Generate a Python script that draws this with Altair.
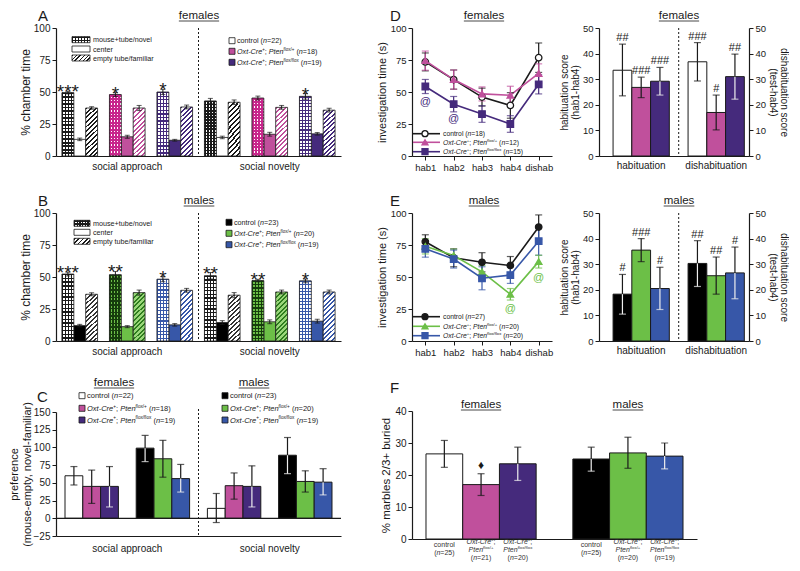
import math
import altair as alt
import pandas as pd

FONT = "Liberation Sans"
INK = "#1a1a1a"
LIGHT = "#eeeeee"
CLEAR = "rgba(255,255,255,0)"
WHITE = "#ffffff"
BLACK = "#000000"
PINK = "#c0509c"
PURP = "#452a7c"
GREEN = "#6cbf47"
BLUE = "#3757a8"
GENOS = ["ctl", "het", "hom"]

# ---------------- data ----------------
groups_ab = ["g1", "g2", "g3", "g4", "g5", "g6"]
geno_ab = ["ctl", "het", "hom", "ctl", "het", "hom"]
chambers = ["grid", "center", "hatch"]

A_vals = [[49.5, 13.0, 37.5], [48.0, 15.0, 37.5], [50.0, 12.3, 38.3],
          [43.0, 14.5, 42.0], [45.3, 17.0, 38.0], [46.6, 17.3, 35.8]]
A_errs = [[1.0, 1.0, 1.0], [1.5, 1.2, 2.0], [2.0, 0.7, 1.5],
          [2.0, 1.0, 1.8], [1.5, 1.5, 1.5], [2.2, 1.0, 1.5]]
A_stars = ["***", "*", "*", "", "", "*"]
A_n = [22, 18, 19]

B_vals = [[52.3, 12.0, 36.5], [51.8, 11.2, 37.8], [48.3, 12.6, 39.6],
          [51.0, 14.4, 35.8], [47.2, 15.0, 38.3], [47.0, 15.5, 38.3]]
B_errs = [[1.5, 1.0, 1.2], [2.5, 0.8, 2.0], [2.0, 1.0, 1.5],
          [2.5, 1.5, 2.0], [1.0, 1.5, 1.5], [1.5, 1.5, 1.5]]
B_stars = ["***", "**", "*", "**", "**", "*"]
B_n = [23, 20, 19]

C_halves = ["sa", "sn"]
C_half_labels = ["social approach", "social novelty"]
C_sa_vals = [60, 45, 45, 99, 84, 56]
C_sa_lo = [47, 21, 16, 80, 58, 37]
C_sa_hi = [73, 68, 73, 117, 110, 76]
C_sn_vals = [14, 46, 45, 89, 52, 51]
C_sn_lo = [-6, 27, 16, 63, 37, 33]
C_sn_hi = [35, 64, 74, 114, 67, 70]
C_n_f = [22, 18, 19]
C_n_m = [23, 20, 19]

hab_x = ["hab1", "hab2", "hab3", "hab4", "dishab"]
D_ctl = [73.5, 59.7, 46.0, 39.5, 76.8]
D_ctl_err = [7.0, 7.5, 7.0, 10.0, 11.5]
D_het = [74.5, 59.7, 48.5, 47.5, 64.5]
D_het_err = [7.5, 7.5, 5.5, 7.0, 7.5]
D_hom = [54.3, 40.5, 32.8, 25.0, 56.0]
D_hom_err = [5.5, 6.0, 6.5, 6.5, 7.5]
D_at_x = ["hab1", "hab2"]
D_at_y = [42, 29]
D_n = [18, 12, 15]

E_ctl = [77.5, 65.0, 61.5, 59.0, 89.0]
E_ctl_err = [5.5, 7.0, 7.5, 7.0, 9.5]
E_het = [74.0, 66.8, 54.0, 36.5, 62.0]
E_het_err = [6.0, 5.0, 5.0, 4.5, 5.0]
E_hom = [72.0, 64.0, 49.0, 51.5, 78.0]
E_hom_err = [6.5, 7.0, 9.0, 6.5, 11.0]
E_at_x = ["hab4", "dishab"]
E_at_y = [25, 49.5]
E_n = [27, 20, 20]

phases = ["hab", "dis"]
phase_labels = ["habituation", "dishabituation"]
DR_vals = [33.5, 26.8, 29.2, 36.8, 17.0, 31.0]
DR_lo = [23.5, 22.8, 23.8, 29.3, 10.2, 22.2]
DR_hi = [43.7, 30.8, 34.6, 44.3, 23.8, 39.8]
DR_ann = ["##", "###", "###", "###", "#", "##"]
ER_vals = [18.3, 35.5, 20.5, 30.3, 25.5, 26.6]
ER_lo = [10.5, 31.0, 12.3, 21.3, 18.3, 16.5]
ER_hi = [26.0, 40.0, 28.8, 39.2, 32.8, 36.7]
ER_ann = ["#", "###", "#", "##", "##", "#"]

F_halves = ["f", "m"]
F_vals = [26.6, 17.0, 23.5, 25.0, 26.9, 25.9]
F_lo = [22.4, 13.6, 18.3, 21.2, 22.1, 21.9]
F_hi = [30.8, 20.4, 28.7, 28.7, 31.8, 30.0]
F_n = [25, 21, 20, 25, 20, 19]
F_mark = ["", "\u2666", "", "", "", ""]

# ---------------- helpers ----------------
AW = {" ": 278, "#": 556, "%": 889, "(": 333, ")": 333, "*": 389, "+": 584, ",": 278,
      "-": 333, ".": 278, "/": 278, ";": 278, "=": 584, "@": 1015,
      "A": 667, "B": 667, "C": 722, "D": 722, "E": 667, "F": 611, "O": 778, "P": 667}
AW.update({d: 556 for d in "0123456789"})
AW.update(dict(zip("abcdefghijklmnopqrstuvwxyz",
                   [556, 556, 500, 556, 556, 278, 556, 556, 222, 222, 500, 222, 833,
                    556, 556, 556, 556, 333, 500, 278, 556, 500, 722, 500, 500, 500])))


def tw(s, size):
    return sum(AW.get(ch, 556) for ch in s) * size / 1000.0


ONE = pd.DataFrame({"a": [0]})


def vrect(x0, x1, y0, y1, **kw):
    return alt.Chart(ONE).mark_rect(**kw).encode(
        x=alt.value(x0), x2=alt.value(x1), y=alt.value(y0), y2=alt.value(y1))


def grad(c1, c2, n, frac, x1, y1, x2, y2):
    stops = []
    for i in range(n):
        a, b, c = i / n, (i + frac) / n, (i + 1) / n
        stops += [dict(offset=round(a, 4), color=c1), dict(offset=round(b, 4), color=c1),
                  dict(offset=round(b, 4), color=c2), dict(offset=round(c, 4), color=c2)]
    return dict(gradient="linear", x1=x1, y1=y1, x2=x2, y2=y2, stops=stops)


def hatch(line, bg, w, h, period=3.4, frac=0.42):
    c = (w + h) / (w * w + h * h)
    n = max(2, round((w + h) / math.sqrt(2) / period))
    return grad(line, bg, n, frac, 0, 0, round(c * w, 4), round(c * h, 4))


def segs_rows(segs, x, base, size, color=INK, anchor="left"):
    items = [(t, st, size * 0.62 if st == "s" else size) for t, st in segs]
    total = sum(tw(t, sz) for t, st, sz in items)
    cx = x - total / 2 if anchor == "center" else x
    out = []
    for t, st, sz in items:
        s = t.strip(" ")
        lead = len(t) - len(t.lstrip(" "))
        if s:
            out.append(dict(x=round(cx + lead * AW[" "] * sz / 1000, 2),
                            y=round(base - (0.42 * size if st == "s" else 0), 2),
                            t=s, sz=round(sz, 2), it=(st == "i"), c=color))
        cx += tw(t, sz)
    return out


def n_segs(n):
    return [("(", "n"), ("n", "i"), (f"={n})", "n")]


def geno_segs(kind, n):
    if kind == "ctl":
        return [("control ", "n")] + n_segs(n)
    sup = "flox/+" if kind == "het" else "flox/flox"
    return [("Oxt-Cre", "i"), ("+", "s"), ("; ", "n"), ("Pten", "i"), (sup, "s"), (" ", "n")] + n_segs(n)


def title_bits(text, cx, base, size=11.5):
    w = tw(text, size)
    rows = [dict(x=round(cx - w / 2, 2), y=base, t=text, sz=size, it=False, c=INK)]
    ul = [dict(x=round(cx - w / 2, 2), x2=round(cx + w / 2, 2), y=base + 2)]
    return rows, ul


def letter_row(letter, x, y):
    return dict(x=x, y=y, t=letter, sz=15, it=False, c=INK)


def text_layers(rows):
    df = pd.DataFrame(rows)
    out = []
    for it in (False, True):
        sub = df[df["it"] == it].drop(columns="it")
        if len(sub):
            out.append(alt.Chart(sub).mark_text(
                align="left", baseline="alphabetic", font=FONT,
                fontStyle="italic" if it else "normal").encode(
                x=alt.X("x:Q", scale=None), y=alt.Y("y:Q", scale=None), text="t:N",
                size=alt.Size("sz:Q", scale=None, legend=None),
                color=alt.Color("c:N", scale=None, legend=None)))
    return out


def uline_layer(rows):
    return alt.Chart(pd.DataFrame(rows)).mark_rule(color=INK, strokeWidth=0.8).encode(
        x=alt.X("x:Q", scale=None), x2="x2:Q", y=alt.Y("y:Q", scale=None))


def rect_layer(rows):
    return alt.Chart(pd.DataFrame(rows)).mark_rect(stroke=INK, strokeWidth=0.8).encode(
        x=alt.X("x:Q", scale=None), x2="x2:Q", y=alt.Y("y:Q", scale=None), y2="y2:Q",
        fill=alt.Fill("f:N", scale=None))


def label_expr(mapping):
    expr = "''"
    for k, v in reversed(list(mapping.items())):
        expr = f"datum.value == '{k}' ? '{v}' : ({expr})"
    return expr


PAT = {
    "f": {"ctl": dict(center=WHITE, gl="#1a1a1a", gb=WHITE, gf=0.45, hl="#1a1a1a", hb=WHITE),
          "het": dict(center=PINK, gl="#c8268c", gb=WHITE, gf=0.6, hl=PINK, hb=WHITE),
          "hom": dict(center=PURP, gl=PURP, gb=WHITE, gf=0.35, hl=PURP, hb=WHITE)},
    "m": {"ctl": dict(center=BLACK, gl="#1a1a1a", gb=WHITE, gf=0.35, hl="#333333", hb=WHITE),
          "het": dict(center=GREEN, gl="#163d0c", gb=GREEN, gf=0.4, hl="#2e7d1e", hb="#9ad77a"),
          "hom": dict(center=BLUE, gl=BLUE, gb=WHITE, gf=0.35, hl=BLUE, hb=WHITE)},
}

# ---------------- panels A / B ----------------
AB_SLOTS = []
for _gi, _g in enumerate(groups_ab):
    AB_SLOTS += [f"{_g}_{c}" for c in chambers]
    if _gi < len(groups_ab) - 1:
        AB_SLOTS.append(f"gap{_gi}")

AX_ABX = alt.Axis(title=None, ticks=False, labelAngle=0, labelPadding=5, labelFontSize=10,
                  labelExpr=label_expr({"g2_center": "social approach", "g5_center": "social novelty"}))
AX_ABY = alt.Axis(title="% chamber time", values=[0, 25, 50, 75, 100], titleFontSize=12, titlePadding=1)


def panel_ab(vals, errs, stars, sex, ns, letter, ttl, lleg, rleg):
    pat = PAT[sex]
    rows = []
    for gi, g in enumerate(groups_ab):
        geno = geno_ab[gi]
        for ci, ch in enumerate(chambers):
            v, e = vals[gi][ci], errs[gi][ci]
            rows.append(dict(slot=f"{g}_{ch}", ch=ch, geno=geno, val=v, lo=v - e, hi=v + e,
                             cf=pat[geno]["center"], star=stars[gi] if ch == "grid" else ""))
    df = pd.DataFrame(rows)
    XS = alt.Scale(domain=AB_SLOTS, paddingInner=0, paddingOuter=0.5)
    X = alt.X("slot:N", scale=XS, axis=AX_ABX)
    YS = alt.Scale(domain=[0, 100])

    def Y(f):
        return alt.Y(f"{f}:Q", scale=YS, axis=AX_ABY, stack=None)

    base = alt.Chart(df)
    layers = [base.transform_filter("datum.ch == 'center'").mark_bar(stroke=INK, strokeWidth=0.8).encode(
        x=X, y=Y("val"), fill=alt.Fill("cf:N", scale=None))]
    for g in GENOS:
        p = pat[g]
        sg = base.transform_filter(f"datum.geno == '{g}' && datum.ch == 'grid'")
        layers.append(sg.mark_bar(fill=grad(p["gl"], p["gb"], 18, p["gf"], 0, 0, 0, 1), strokeWidth=0).encode(
            x=X, y=Y("val")))
        layers.append(sg.mark_bar(fill=grad(p["gl"], CLEAR, 4, p["gf"], 0, 0, 1, 0), stroke=INK, strokeWidth=0.8).encode(
            x=X, y=Y("val")))
        sh = base.transform_filter(f"datum.geno == '{g}' && datum.ch == 'hatch'")
        layers.append(sh.mark_bar(fill=hatch(p["hl"], p["hb"], 12, 50), stroke=INK, strokeWidth=0.8).encode(
            x=X, y=Y("val")))
    layers.append(base.mark_rule(color=INK, strokeWidth=1).encode(x=X, y=Y("lo"), y2="hi:Q"))
    for f in ("lo", "hi"):
        layers.append(base.mark_tick(orient="horizontal", size=5, thickness=1, color=INK).encode(x=X, y=Y(f)))
    layers.append(base.transform_filter("datum.star != ''").mark_text(
        fontSize=19, baseline="alphabetic", dy=7, color=INK, font=FONT).encode(
        x=X, y=Y("hi"), text="star:N"))
    layers.append(alt.Chart(pd.DataFrame({"slot": ["gap2"]})).mark_rule(
        color=INK, strokeDash=[2, 2], strokeWidth=1).encode(
        x=alt.X("slot:N", scale=XS, axis=AX_ABX), y=alt.value(0), y2=alt.value(128)))

    deco, ul = [], []
    r, u = title_bits(ttl, 143, -9)
    deco += r
    ul += u
    deco.append(letter_row(letter, -18, -7))
    lx0, lx1, ly = lleg
    for k, lab in enumerate(["mouse+tube/novel", "center", "empty tube/familiar"]):
        deco += segs_rows([(lab, "n")], lx1 + 3, ly[k] + 2.5, 7.2)
    layers += [vrect(lx0, lx1, ly[0] - 3, ly[0] + 3, fill=grad(INK, WHITE, 2, 0.5, 0, 0, 0, 1)),
               vrect(lx0, lx1, ly[0] - 3, ly[0] + 3, fill=grad(INK, CLEAR, 6, 0.45, 0, 0, 1, 0),
                     stroke=INK, strokeWidth=0.8),
               vrect(lx0, lx1, ly[1] - 3, ly[1] + 3, fill=WHITE, stroke=INK, strokeWidth=0.8),
               vrect(lx0, lx1, ly[2] - 3, ly[2] + 3, fill=hatch(INK, WHITE, lx1 - lx0, 6, 3.0),
                     stroke=INK, strokeWidth=0.8)]
    rx0, ry = rleg
    sq = []
    for k, g in enumerate(GENOS):
        sq.append(dict(x=rx0, x2=rx0 + 6, y=ry[k] - 3, y2=ry[k] + 3, f=pat[g]["center"]))
        deco += segs_rows(geno_segs(g, ns[k]), rx0 + 8, ry[k] + 2.5, 7.2)
    layers.append(rect_layer(sq))
    layers += text_layers(deco)
    layers.append(uline_layer(ul))
    return alt.layer(*layers).properties(width=285, height=128)


# ---------------- panel C ----------------
C_SLOT_KEYS = ["f0", "f1", "f2", "gap", "m0", "m1", "m2"]
C_SLOTS = [f"{C_halves[0]}_{k}" for k in C_SLOT_KEYS] + ["mid"] + [f"{C_halves[1]}_{k}" for k in C_SLOT_KEYS]
AX_CX = alt.Axis(title=None, ticks=False, labelAngle=0, labelPadding=7, labelFontSize=10, offset=-3,
                 labelExpr=label_expr({f"{C_halves[0]}_gap": C_half_labels[0],
                                       f"{C_halves[1]}_gap": C_half_labels[1]}))
AX_CY = alt.Axis(title=["preference", "(mouse-empty, novel-familiar)"], values=list(range(-25, 151, 25)),
                 titleFontSize=11, titleLineHeight=13, titlePadding=1)


def panel_c():
    cols = [WHITE, PINK, PURP, BLACK, GREEN, BLUE]
    ecs = [INK, INK, LIGHT, LIGHT, INK, LIGHT]
    keys = ["f0", "f1", "f2", "m0", "m1", "m2"]
    rows = []
    for half, vals, los, his in ((C_halves[0], C_sa_vals, C_sa_lo, C_sa_hi),
                                 (C_halves[1], C_sn_vals, C_sn_lo, C_sn_hi)):
        for k in range(6):
            rows.append(dict(slot=f"{half}_{keys[k]}", val=vals[k], lo=los[k], hi=his[k], col=cols[k], ec=ecs[k]))
    df = pd.DataFrame(rows)
    XS = alt.Scale(domain=C_SLOTS, paddingInner=0, paddingOuter=0.506)
    X = alt.X("slot:N", scale=XS, axis=AX_CX)
    YS = alt.Scale(domain=[-25, 150], range=[138, 14])

    def Y(f):
        return alt.Y(f"{f}:Q", scale=YS, axis=AX_CY, stack=None)

    base = alt.Chart(df)
    layers = [
        base.mark_bar(stroke=INK, strokeWidth=1).encode(x=X, y=Y("val"), fill=alt.Fill("col:N", scale=None)),
        alt.Chart(pd.DataFrame({"z": [0]})).mark_rule(color=INK, strokeWidth=1.2).encode(
            y=Y("z"), x=alt.value(0), x2=alt.value(285)),
        base.mark_rule(color=INK, strokeWidth=1.2).encode(x=X, y=Y("val"), y2="hi:Q"),
        base.mark_tick(orient="horizontal", size=7, thickness=1.2, color=INK).encode(x=X, y=Y("hi")),
        base.mark_rule(strokeWidth=1.2).encode(x=X, y=Y("lo"), y2="val:Q", color=alt.Color("ec:N", scale=None)),
        base.mark_tick(orient="horizontal", size=7, thickness=1.2).encode(
            x=X, y=Y("lo"), color=alt.Color("ec:N", scale=None)),
        alt.Chart(pd.DataFrame({"slot": ["mid"]})).mark_rule(
            color=INK, strokeDash=[2, 2], strokeWidth=1).encode(
            x=alt.X("slot:N", scale=XS, axis=AX_CX), y=alt.value(11), y2=alt.value(138)),
    ]
    deco, ul = [], []
    for t, cx in (("females", 58), ("males", 198)):
        r, u = title_bits(t, cx, -12)
        deco += r
        ul += u
    deco.append(letter_row("C", -19, 4))
    sq = []
    ly = [-2.3, 10.3, 22]
    for x0, fills, ns in ((23, [WHITE, PINK, PURP], C_n_f), (166, [BLACK, GREEN, BLUE], C_n_m)):
        for k, g in enumerate(GENOS):
            sq.append(dict(x=x0, x2=x0 + 6, y=ly[k] - 3, y2=ly[k] + 3, f=fills[k]))
            deco += segs_rows(geno_segs(g, ns[k]), x0 + 8, ly[k] + 2.6, 7.5)
    layers.append(rect_layer(sq))
    layers += text_layers(deco)
    layers.append(uline_layer(ul))
    return alt.layer(*layers).properties(width=285, height=141)


# ---------------- panels D / E ----------------
R_SLOTS = [f"{phases[0]}_{g}" for g in GENOS] + ["gap"] + [f"{phases[1]}_{g}" for g in GENOS]
AX_LX = alt.Axis(title=None, orient="bottom", labelFontSize=9.5, labelAngle=0, tickSize=4, labelPadding=2)
AX_LY = alt.Axis(title="investigation time (s)", orient="left", values=[0, 25, 50, 75, 100],
                 titleFontSize=11, titlePadding=3, labelFontSize=9.5)
AX_RX = alt.Axis(title=None, orient="bottom", ticks=False, labelFontSize=10, labelAngle=0, labelPadding=4,
                 labelExpr=label_expr({f"{phases[0]}_het": phase_labels[0], f"{phases[1]}_het": phase_labels[1]}))
AX_RYL = alt.Axis(orient="left", offset=-187, title=["habituation score", "(hab1-hab4)"],
                  values=[0, 10, 20, 30, 40, 50], titleFontSize=10, titleLineHeight=11,
                  titlePadding=2, labelFontSize=9.5)
AX_RYR = alt.Axis(orient="right", title=["dishabituation score", "(test-hab4)"],
                  values=[0, 10, 20, 30, 40, 50], titleFontSize=10, titleLineHeight=11,
                  titlePadding=2, labelFontSize=9.5)

LC = {"f": {"ctl": (INK, WHITE), "het": (PINK, PINK), "hom": (PURP, PURP)},
      "m": {"ctl": (INK, INK), "het": (GREEN, GREEN), "hom": (BLUE, BLUE)}}
BC = {"f": [(WHITE, INK), (PINK, INK), (PURP, LIGHT)],
      "m": [(BLACK, LIGHT), (GREEN, INK), (BLUE, LIGHT)]}
SH = {"ctl": "circle", "het": "triangle-up", "hom": "square"}


def panel_de(sex, series, at_x, at_y, R, ns, letter, ttl, leg_y):
    rows = []
    for g in GENOS:
        vals, errs = series[g]
        col, pf = LC[sex][g]
        for i, t in enumerate(hab_x):
            rows.append(dict(geno=g, t=t, ti=i, val=vals[i], lo=vals[i] - errs[i], hi=vals[i] + errs[i],
                             col=col, pf=pf))
    df = pd.DataFrame(rows)
    XL = alt.X("t:N", scale=alt.Scale(type="point", domain=hab_x, range=[0, 140], padding=0.47), axis=AX_LX)
    YLs = alt.Scale(domain=[0, 100])

    def YL(f):
        return alt.Y(f"{f}:Q", scale=YLs, axis=AX_LY)

    base = alt.Chart(df)
    atcol = LC[sex]["hom" if sex == "f" else "het"][0]
    at_df = pd.DataFrame({"t": at_x, "val": at_y, "s": ["@"] * len(at_x), "col": [atcol] * len(at_x)})
    left = [
        base.mark_line(strokeWidth=1.6).encode(x=XL, y=YL("val"), color=alt.Color("col:N", scale=None),
                                               detail="geno:N", order="ti:Q"),
        base.mark_rule(strokeWidth=1.2).encode(x=XL, y=YL("lo"), y2="hi:Q", color=alt.Color("col:N", scale=None)),
        base.mark_tick(orient="horizontal", size=7, thickness=1.2).encode(
            x=XL, y=YL("lo"), color=alt.Color("col:N", scale=None)),
        base.mark_tick(orient="horizontal", size=7, thickness=1.2).encode(
            x=XL, y=YL("hi"), color=alt.Color("col:N", scale=None)),
        base.mark_point(filled=True, size=42, opacity=1, strokeWidth=1.3).encode(
            x=XL, y=YL("val"),
            shape=alt.Shape("geno:N", scale=alt.Scale(domain=GENOS, range=["circle", "triangle-up", "square"]),
                            legend=None),
            fill=alt.Fill("pf:N", scale=None), stroke=alt.Stroke("col:N", scale=None)),
        alt.Chart(at_df).mark_text(fontSize=11, baseline="middle", font=FONT).encode(
            x=XL, y=YL("val"), text="s:N", color=alt.Color("col:N", scale=None)),
    ]
    deco, ul = [], []
    for cx in (72, 267):
        r, u = title_bits(ttl, cx, -9)
        deco += r
        ul += u
    deco.append(letter_row(letter, -22, -7))
    for k, g in enumerate(GENOS):
        col, pf = LC[sex][g]
        y = leg_y[k]
        left.append(alt.Chart(ONE).mark_rule(color=col, strokeWidth=1.6).encode(
            x=alt.value(1), x2=alt.value(28), y=alt.value(y)))
        left.append(alt.Chart(ONE).mark_point(shape=SH[g], filled=True, size=36, fill=pf, stroke=col,
                                              strokeWidth=1.3, opacity=1).encode(x=alt.value(13), y=alt.value(y)))
        deco += segs_rows(geno_segs(g, ns[k]), 31, y + 2.4, 6.8)
    left += text_layers(deco)
    left.append(uline_layer(ul))

    rr = []
    for pi_, ph in enumerate(phases):
        for k, g in enumerate(GENOS):
            i = pi_ * 3 + k
            col, ec = BC[sex][k]
            rr.append(dict(slot=f"{ph}_{g}", val=R[0][i], lo=R[1][i], hi=R[2][i], col=col, ec=ec, ann=R[3][i]))
    dfr = pd.DataFrame(rr)
    XRs = alt.Scale(domain=R_SLOTS, range=[187, 337], paddingInner=0, paddingOuter=0.5, align=0.75)
    XR = alt.X("slot:N", scale=XRs, axis=AX_RX)
    YRs = alt.Scale(domain=[0, 50])
    br = alt.Chart(dfr)
    right = [
        br.mark_bar(stroke=INK, strokeWidth=1).encode(
            x=XR, y=alt.Y("val:Q", scale=YRs, axis=AX_RYL, stack=None), fill=alt.Fill("col:N", scale=None)),
        br.mark_rule(color=INK, strokeWidth=1.2).encode(
            x=XR, y=alt.Y("val:Q", scale=YRs, axis=AX_RYR), y2="hi:Q"),
        br.mark_tick(orient="horizontal", size=7, thickness=1.2, color=INK).encode(
            x=XR, y=alt.Y("hi:Q", scale=YRs, axis=None)),
        br.mark_rule(strokeWidth=1.2).encode(
            x=XR, y=alt.Y("lo:Q", scale=YRs, axis=None), y2="val:Q", color=alt.Color("ec:N", scale=None)),
        br.mark_tick(orient="horizontal", size=7, thickness=1.2).encode(
            x=XR, y=alt.Y("lo:Q", scale=YRs, axis=None), color=alt.Color("ec:N", scale=None)),
        br.mark_text(fontSize=11, baseline="bottom", dy=-1, font=FONT, color=INK).encode(
            x=XR, y=alt.Y("hi:Q", scale=YRs, axis=None), text="ann:N"),
        alt.Chart(pd.DataFrame({"slot": ["gap"]})).mark_rule(
            color=INK, strokeDash=[2, 2], strokeWidth=1).encode(
            x=alt.X("slot:N", scale=XRs, axis=AX_RX), y=alt.value(0), y2=alt.value(128)),
    ]
    return alt.layer(alt.layer(*left), alt.layer(*right).resolve_axis(y="independent")).resolve_scale(
        x="independent", y="independent").properties(width=337, height=128)


# ---------------- panel F ----------------
F_SLOTS = [f"{F_halves[0]}_{g}" for g in GENOS] + ["gap"] + [f"{F_halves[1]}_{g}" for g in GENOS]
AX_FX = alt.Axis(title=None, labels=False, ticks=False)
AX_FY = alt.Axis(title="% marbles 2/3+ buried", values=[0, 10, 20, 30, 40], titleFontSize=11.5, titlePadding=3)


def panel_f():
    cols = [WHITE, PINK, PURP, BLACK, GREEN, BLUE]
    ecs = [INK, INK, LIGHT, LIGHT, INK, LIGHT]
    rows = []
    for h, half in enumerate(F_halves):
        for k, g in enumerate(GENOS):
            i = h * 3 + k
            rows.append(dict(slot=f"{half}_{g}", val=F_vals[i], lo=F_lo[i], hi=F_hi[i],
                             col=cols[i], ec=ecs[i], mk=F_mark[i]))
    df = pd.DataFrame(rows)
    PO, W = 0.381, 285
    XS = alt.Scale(domain=F_SLOTS, range=[0, W], paddingInner=0, paddingOuter=PO)
    X = alt.X("slot:N", scale=XS, axis=AX_FX)
    YS = alt.Scale(domain=[0, 40], range=[141, 13])

    def Y(f):
        return alt.Y(f"{f}:Q", scale=YS, axis=AX_FY, stack=None)

    base = alt.Chart(df)
    layers = [
        base.mark_bar(stroke=INK, strokeWidth=1).encode(x=X, y=Y("val"), fill=alt.Fill("col:N", scale=None)),
        base.mark_rule(color=INK, strokeWidth=1.2).encode(x=X, y=Y("val"), y2="hi:Q"),
        base.mark_tick(orient="horizontal", size=7, thickness=1.2, color=INK).encode(x=X, y=Y("hi")),
        base.mark_rule(strokeWidth=1.2).encode(x=X, y=Y("lo"), y2="val:Q", color=alt.Color("ec:N", scale=None)),
        base.mark_tick(orient="horizontal", size=7, thickness=1.2).encode(
            x=X, y=Y("lo"), color=alt.Color("ec:N", scale=None)),
        base.transform_filter("datum.mk != ''").mark_text(fontSize=12, baseline="bottom", dy=-2, color=INK).encode(
            x=X, y=Y("hi"), text="mk:N"),
    ]
    step = W / (len(F_SLOTS) + 2 * PO)
    start = PO * step
    centers = {s: start + step * (i + 0.5) for i, s in enumerate(F_SLOTS)}
    deco, ul = [], []
    for h, half in enumerate(F_halves):
        for k, g in enumerate(GENOS):
            i = h * 3 + k
            c = centers[f"{half}_{g}"]
            if g == "ctl":
                lines = [([("control", "n")], 147.0), (n_segs(F_n[i]), 155.0)]
            else:
                sup = "flox/+" if g == "het" else "flox/flox"
                lines = [([("Oxt-Cre", "i"), ("+", "s"), (";", "n")], 144.0),
                         ([("Pten", "i"), (sup, "s")], 152.0), (n_segs(F_n[i]), 160.0)]
            for segs, yc in lines:
                deco += segs_rows(segs, c, yc + 2.4, 7, color="#333333", anchor="center")
    for t, half in (("females", F_halves[0]), ("males", F_halves[1])):
        r, u = title_bits(t, centers[f"{half}_het"], 10)
        deco += r
        ul += u
    deco.append(letter_row("F", -22, -5))
    layers += text_layers(deco)
    layers.append(uline_layer(ul))
    return alt.layer(*layers).properties(width=337, height=141)


# ---------------- assemble ----------------
pA = panel_ab(A_vals, A_errs, A_stars, "f", A_n, "A", "females",
              (16, 34, [11.7, 21, 30]), (173, [12.7, 23.3, 34.3]))
pB = panel_ab(B_vals, B_errs, B_stars, "m", B_n, "B", "males",
              (18, 34, [10.3, 19.3, 28.3]), (170, [9.3, 20.3, 31.7]))
pC = panel_c()
pD = panel_de("f", {"ctl": (D_ctl, D_ctl_err), "het": (D_het, D_het_err), "hom": (D_hom, D_hom_err)},
              D_at_x, D_at_y, (DR_vals, DR_lo, DR_hi, DR_ann), D_n, "D", "females", [105.7, 114.3, 123.7])
pE = panel_de("m", {"ctl": (E_ctl, E_ctl_err), "het": (E_het, E_het_err), "hom": (E_hom, E_hom_err)},
              E_at_x, E_at_y, (ER_vals, ER_lo, ER_hi, ER_ann), E_n, "E", "males", [103.7, 113.3, 122.7])
pF = panel_f()

chart = alt.concat(pA, pD, pB, pE, pC, pF, columns=2, spacing={"row": 57, "column": 71}, bounds="flush")
chart = chart.properties(padding={"left": 0, "top": 1, "right": 0, "bottom": 0}).configure(
    font=FONT).configure_view(stroke=None).configure_axis(
    grid=False, domainColor=INK, tickColor=INK, labelColor=INK, titleColor=INK,
    labelFont=FONT, titleFont=FONT, titleFontWeight="normal", labelFontSize=10,
    titleFontSize=11.5, tickSize=4, domainWidth=1.2, tickWidth=1, labelPadding=2)

chart.save("out.html", embed_options={"renderer": "svg", "actions": False})
